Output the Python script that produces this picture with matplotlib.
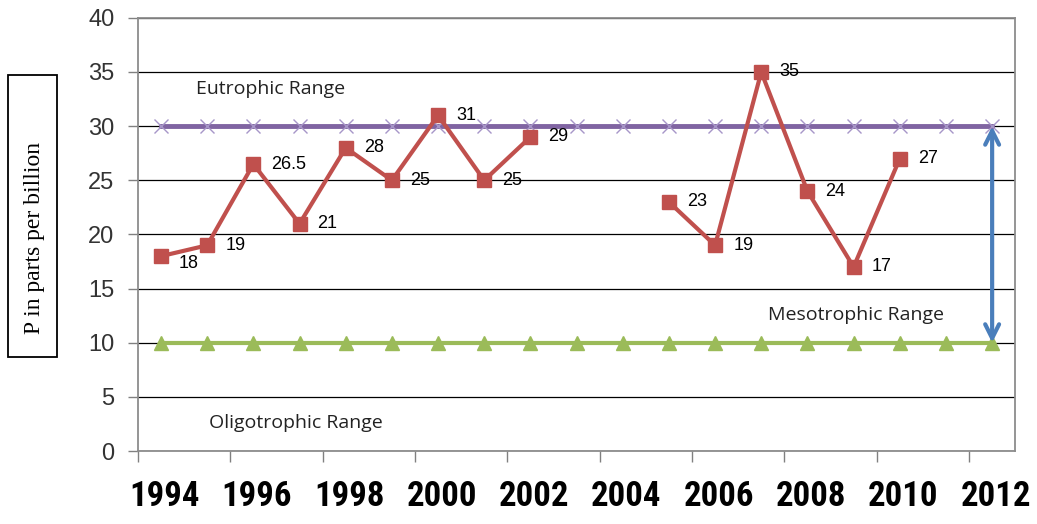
import numpy as np
import matplotlib
matplotlib.use('Agg')
import matplotlib.pyplot as plt
from matplotlib import font_manager
from matplotlib.patches import Rectangle

years = list(range(1994, 2013))
phosphorus = [18, 19, 26.5, 21, 28, 25, 31, 25, 29, np.nan, np.nan,
              23, 19, 35, 24, 17, 27, np.nan, np.nan]
eutrophic = [30] * len(years)
mesotrophic = [10] * len(years)
year_labels = [str(y) for y in years[::2]]

x = np.arange(len(years))

# узкий шрифт для подписей годов, если есть
installed = {f.name for f in font_manager.fontManager.ttflist}
narrow = None
for name in ['Liberation Sans Narrow', 'Arial Narrow', 'Roboto Condensed',
             'Open Sans Condensed', 'DejaVu Sans Condensed']:
    if name in installed:
        narrow = name
        break
if narrow:
    year_font = dict(family=[narrow, 'DejaVu Sans'], fontsize=25)
else:
    year_font = dict(family=['Liberation Sans', 'DejaVu Sans'], fontsize=22)

fig = plt.figure(figsize=(10.37, 5.24), dpi=100)
ax = fig.add_axes([0.133, 0.139, 0.846, 0.827])

ax.plot(x, eutrophic, color='#8064A2', lw=3.5, zorder=2)
ax.plot(x, eutrophic, ls='none', marker='x', ms=10, mew=1.0,
        color='#A796C8', zorder=3)
ax.plot(x, mesotrophic, color='#9BBB59', lw=3, marker='^', ms=10,
        zorder=3)

ax.plot(x, phosphorus, color='#C0504D', lw=3, marker='s', ms=10, zorder=4)
for xi, v in zip(x, phosphorus):
    if np.isnan(v):
        continue
    dy = -5 if v == 18 else 0
    ax.annotate('%g' % v, (xi, v), xytext=(13, dy), textcoords='offset points',
                ha='left', va='center', fontsize=13,
                family=['Liberation Sans', 'DejaVu Sans'], zorder=5)

ax.annotate('', xy=(x[-1], 10), xytext=(x[-1], 30),
            arrowprops=dict(arrowstyle='<->', color='#4A7EBB', lw=3,
                            mutation_scale=25, shrinkA=0, shrinkB=0),
            zorder=5)

txt_font = ['Open Sans', 'DejaVu Sans']
ax.text(0.75, 33.4, 'Eutrophic Range', fontsize=14, family=txt_font,
        va='center', ha='left', color='#222222')
ax.text(13.15, 12.6, 'Mesotrophic Range', fontsize=14, family=txt_font,
        va='center', ha='left', color='#222222')
ax.text(1.05, 2.6, 'Oligotrophic Range', fontsize=14, family=txt_font,
        va='center', ha='left', color='#222222')

ax.set_xlim(-0.5, len(years) - 0.5)
ax.set_ylim(0, 40)
ax.set_yticks(range(0, 41, 5))
ax.yaxis.grid(True, color='black', lw=0.9)
ax.set_axisbelow(True)
ax.tick_params(axis='y', length=7, width=1, color='#808080', pad=10,
               labelsize=17)
for lab in ax.get_yticklabels():
    lab.set_family(['Liberation Sans', 'DejaVu Sans'])
    lab.set_color('#333333')

ax.set_xticks(np.arange(-0.5, len(years) - 1, 2))
ax.set_xticklabels([])
ax.tick_params(axis='x', which='major', length=8, width=1, color='#808080')
ax.set_xticks(x[::2] + 0.08, minor=True)
ax.set_xticklabels(year_labels, minor=True, fontweight='bold', **year_font)
ax.tick_params(axis='x', which='minor', length=0, pad=21)

for side in ['left', 'right', 'top', 'bottom']:
    ax.spines[side].set_color('#8C8C8C')
    ax.spines[side].set_linewidth(1.3)

fig.patches.append(Rectangle((0.0077, 0.3187), 0.0473, 0.538,
                             transform=fig.transFigure, fc='white',
                             ec='black', lw=1.3))
fig.text(0.0328, 0.545, 'P in parts per billion', rotation=90,
         ha='center', va='center', fontsize=17,
         family=['Liberation Serif', 'DejaVu Serif'])

fig.savefig('out.png', dpi=100)
